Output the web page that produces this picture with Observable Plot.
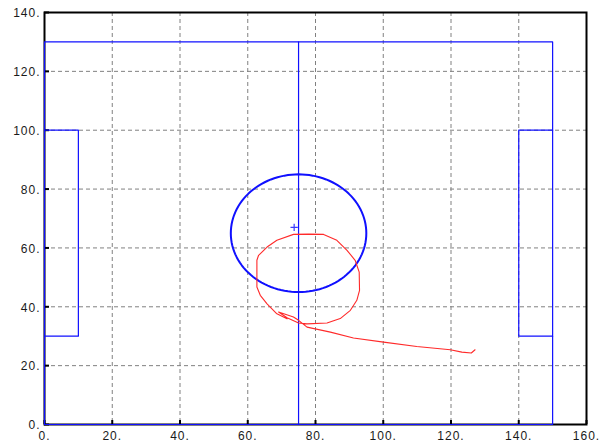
<!DOCTYPE html>
<html>
<head>
<meta charset="utf-8">
<script src="https://cdn.jsdelivr.net/npm/d3@7"></script>
<script src="https://cdn.jsdelivr.net/npm/@observablehq/plot@0.6"></script>
<style>
  html, body { margin: 0; padding: 0; background: #ffffff; }
  #chart svg text { letter-spacing: 1px; }
</style>
</head>
<body>
<div id="chart"></div>
<script>
// ---- data ----
const xTicks = [0, 20, 40, 60, 80, 100, 120, 140, 160];
const yTicks = [0, 20, 40, 60, 80, 100, 120, 140];
const xGrid = [20, 40, 60, 80, 100, 120, 140];
const yGrid = [20, 40, 60, 80, 100, 120];

// field outline (blue)
const fieldOutline = [[0, 0], [0, 130], [150, 130], [150, 0], [0, 0]];
const centerLine = [[75, 0], [75, 130]];
const leftBox = [[0, 30], [10, 30], [10, 100], [0, 100]];
const rightBox = [[150, 30], [140, 30], [140, 100], [150, 100]];
const centerCircle = {cx: 75, cy: 65, r: 20};
const marker = [[73.7, 67]];

// red trajectory
const trajX = [127.1, 126.0, 123.2, 119.8, 109.9, 100.1, 91.2, 84.4, 77.5, 75.0, 73.5, 69.1,
  71.6, 75.0, 77.5, 83.4, 87.3, 90.3, 92.2, 93.0, 92.9, 91.7, 89.3, 86.3, 82.4, 78.0, 73.5,
  68.6, 65.7, 63.2, 62.7, 62.7, 63.7, 65.7, 68.6, 71.6];
const trajY = [25.4, 24.3, 24.6, 25.4, 26.5, 28.0, 29.4, 31.4, 33.1, 35.4, 36.5, 38.2,
  36.3, 34.5, 34.2, 34.5, 36.0, 38.8, 42.2, 45.6, 51.8, 55.8, 59.2, 62.6, 64.6, 64.7, 64.6,
  62.6, 60.3, 57.5, 55.8, 46.7, 43.9, 41.0, 37.6, 35.9];

// ---- derived ----
const traj = trajX.map((x, i) => [x, trajY[i]]);
const circlePts = d3.range(0, 361, 3).map(a => {
  const t = a * Math.PI / 180;
  return [centerCircle.cx + centerCircle.r * Math.cos(t), centerCircle.cy + centerCircle.r * Math.sin(t)];
});

const blue = "#1010ff";
const red = "#ff2a2a";

const chart = Plot.plot({
  width: 605,
  height: 443,
  marginLeft: 44,
  marginRight: 19,
  marginTop: 12,
  marginBottom: 19,
  style: {fontFamily: "Arial, 'Liberation Sans', sans-serif", fontSize: "12px", background: "#ffffff", color: "#1a1a1a"},
  x: {domain: [0, 160]},
  y: {domain: [0, 140]},
  marks: [
    Plot.gridX(xGrid, {stroke: "#808080", strokeOpacity: 1, strokeDasharray: "4,3"}),
    Plot.gridY(yGrid, {stroke: "#808080", strokeOpacity: 1, strokeDasharray: "4,3"}),
    Plot.frame({stroke: "black", strokeWidth: 2}),
    Plot.axisY(yTicks, {tickSize: 0, tickPadding: 4, dy: 1, tickFormat: d => d + ".", fill: "#1a1a1a"}),
    Plot.axisY(yTicks, {tickSize: 5, dx: 5, tickFormat: () => "", stroke: "black", strokeWidth: 2}),
    Plot.axisX(xTicks, {tickSize: 0, tickPadding: 7, tickFormat: d => d + ".", fill: "#1a1a1a"}),
    Plot.axisX(xTicks, {tickSize: 4, dy: -4, tickFormat: () => "", stroke: "black", strokeWidth: 2}),
    Plot.line(fieldOutline, {x: d => d[0], y: d => d[1], stroke: blue, strokeWidth: 1.2}),
    Plot.line(centerLine, {x: d => d[0], y: d => d[1], stroke: blue, strokeWidth: 1.2}),
    Plot.line(leftBox, {x: d => d[0], y: d => d[1], stroke: blue, strokeWidth: 1.2}),
    Plot.line(rightBox, {x: d => d[0], y: d => d[1], stroke: blue, strokeWidth: 1.2}),
    Plot.line(circlePts, {x: d => d[0], y: d => d[1], stroke: blue, strokeWidth: 2}),
    Plot.dot(marker, {x: d => d[0], y: d => d[1], symbol: "plus", r: 2.5, stroke: "#3a3aff", strokeWidth: 1.2}),
    Plot.line(traj, {x: d => d[0], y: d => d[1], stroke: red, strokeWidth: 1.1, curve: "linear"})
  ]
});
document.getElementById("chart").appendChild(chart);
</script>
</body>
</html>
